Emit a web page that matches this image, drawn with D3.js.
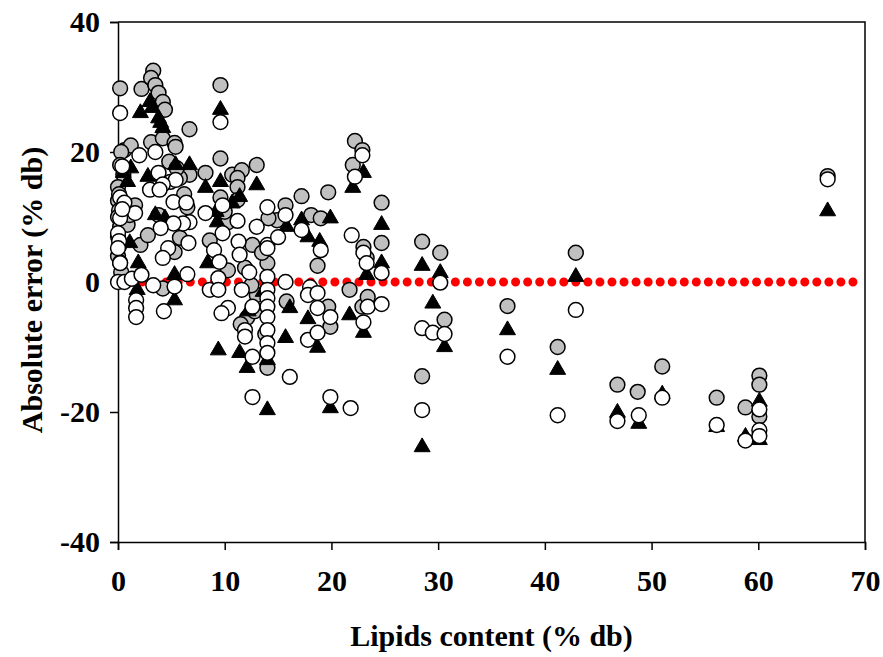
<!DOCTYPE html>
<html>
<head>
<meta charset="utf-8">
<script src="https://cdn.jsdelivr.net/npm/d3@7"></script>
<style>
  body { margin: 0; background: #fff; }
  text { font-family: "Liberation Serif", "Times New Roman", serif; font-weight: bold; }
</style>
</head>
<body>
<svg id="chart"></svg>
<script>
// x = lipids content (% db), y = absolute error (% db)
let grayCircles = [
  [0.2,29.8],[2.2,29.7],[3.3,32.5],[3.1,31.4],[3.5,30.3],[3.8,29.1],[4.2,27.7],[4.4,26.5],[9.6,30.3],[6.7,23.5],
  [0.6,20.3],[1.2,21],[3.1,21.5],[4.2,22.1],[5.3,21.4],[5.4,20.8],[0.3,20],[0.2,18],[0.5,16.5],[0,14.6],
  [0.1,13.5],[0,12.5],[0.1,11],[0,10],[0.2,8.5],[0,7],[0.1,5.5],[0,4],[0.2,3],[0.3,1.5],
  [8.2,16.8],[6.7,16.5],[10.7,16.5],[11.6,17.2],[13,18],[11.2,16],[9.6,19],[9.6,13],[11.2,14.6],[11.2,12.6],
  [15.7,11.8],[14.9,9.5],[14.1,9.8],[17.2,13.2],[19.7,13.8],[18.1,10.3],[19,9.8],[10.3,9.2],[12.6,5.7],[3.8,10.3],
  [2.1,5.7],[0.9,8.8],[1.1,10.3],[1.6,11.8],[2.8,7.2],[5.8,6.8],[5.8,16],[5.3,4.6],[4.2,-1],[4.8,18.5],
  [5.5,17.5],[6.2,13.5],[8.6,6.4],[10,10.8],[6.5,11.5],
  [22.2,21.7],[22.9,20.3],[22,18],[24.7,12.2],[24.7,6],[23,5.4],[23.3,3.7],[18.7,2.5],[21.7,-1.2],[28.5,6.2],[30.2,4.5],
  [15.8,-3],[19.7,-3.8],[19.9,-6.9],[22.9,-3.8],[23.4,-2.3],[30.6,-5.8],[28.5,-14.5],
  [36.5,-3.7],[42.9,4.5],[41.2,-10],[46.8,-15.8],[48.7,-16.9],[51,-13],[56.1,-17.8],[58.8,-19.3],
  [60.1,-14.4],[60.1,-15.8],[60.1,-20.7],[66.5,16.3],
  [14,2.9],[14,-13.2],[12.1,-5.5],[11.9,2.2],[10.3,1.8],[13,-2],[12.5,-0.5],[13.8,-8],[11.5,-6.5],[12.8,-4.5],[13.5,4.5]
];

let blackTriangles = [
  [2.1,26],[3.0,27.7],[3.2,26.8],[3.8,25.2],[4.0,24.5],[4.2,23.7],[9.6,26.5],
  [5.4,18],[6.7,18],[8.2,14.5],[2.8,16.2],[1.2,17.5],[0.9,15.4],[0.5,16.8],[3.5,10.3],[4.4,9.8],
  [9.6,15.4],[13,14.9],[10.7,12.1],[11.4,13.1],[9.3,9.2],[9.2,10.8],
  [17.2,9.5],[19.9,9.8],[17.8,6.9],[18.9,6.2],[15.8,8.5],
  [23,16.8],[22,14.5],[24.7,8.8],[24.7,2.9],[23.3,1.1],[28.5,2.5],[30.2,1.4],
  [1.1,6],[1.9,2.9],[1.8,-1.2],[5.3,1.1],[5.3,-2.8],[8.4,2.9],[9.4,-10.5],
  [16.1,-4],[17.8,-5.7],[18.7,-10.1],[15.7,-8.6],[19.9,-19.4],[21.7,-5.1],[23,-7.8],[29.5,-3.3],[30.6,-10],[28.5,-25.4],
  [36.5,-7.4],[42.9,0.8],[41.2,-13.5],[46.8,-20.1],[48.8,-21.8],[51,-17.3],[56.1,-22.3],[58.8,-23.8],
  [60.1,-18.4],[60.1,-24.3],[66.5,10.9],
  [11.4,-10.9],[12.1,-13.2],[14,-19.7],[14,-12],[12.2,-4.5],[13.6,-1.5]
];

let whiteCircles = [
  [0.2,26],[9.6,24.6],[0.4,17.8],
  [2.0,19.5],[3.5,20],[3.8,16.8],[4.9,15.4],[5.4,15.7],[4.2,15],[3,14.2],[5.2,12.3],[6.4,12.2],[6.7,9.2],
  [8.2,10.6],[6.1,9],[5.2,9],[4,8.3],[3.9,14.2],[1.6,10.6],[9.8,11.8],
  [0.2,13],[0.6,12.2],[0.2,9.8],[0,7.5],[0.4,11.2],[0.1,6.3],[0,5.2],[0.2,2.9],[0,0],[0.6,0],
  [1.3,0.5],[2.2,1.1],[1.7,-2.8],[1.7,-4],[1.7,-5.4],[3.3,-0.5],[5.3,-0.7],[4.3,-4.5],[4.7,5.2],[4.2,3.7],
  [6.6,6],[6.5,1.2],[8.6,-1.2],
  [14,11.5],[15.7,10.3],[13,8.5],[17.2,8],[11.2,9.4],[9.8,7.5],[11.3,6.2],[14,5.7],[15,6.9],
  [15.7,0],[18,-0.8],[19,4.9],
  [22.9,19.5],[22.2,16.2],[24.7,1.4],[21.9,7.2],[23,4.5],[23.3,2.9],[30.2,-0.1],
  [17.8,-2],[18.7,-1.7],[18.7,-4],[19.9,-5.4],[17.8,-8.9],[18.7,-7.8],[16.1,-14.6],[19.9,-17.7],[21.8,-19.4],
  [23,-6.2],[23.4,-3.8],[24.7,-3.4],[28.5,-7.1],[29.5,-7.8],[30.6,-8],[28.5,-19.7],
  [36.5,-11.5],[42.9,-4.3],[41.2,-20.5],[46.8,-21.4],[48.8,-20.5],[51,-17.8],[56.1,-22],[58.8,-24.4],
  [60.1,-19.6],[60.1,-22.8],[60.1,-23.7],[66.5,15.8],
  [14,5.2],[14,0.8],[14,-1.2],[14,-2.5],[14,-3.8],[14,-5.4],[14,-7.4],[14,-9.4],[14,-10.9],
  [11.9,-7.4],[11.9,-8.4],[12.6,-11.5],[12.6,-17.7],[12.6,-3.8],[11.6,-1.2],[9.4,0.6],[9.4,-1.2],
  [10.3,-4],[9.7,-4.8],[11.4,4.2],[9,4.9],[9.5,3.1],[12.3,1.5]
];

let zeroLine = [[0, 0], [70, 0]];
let xTicks = [0, 10, 20, 30, 40, 50, 60, 70],
    yTicks = [-40, -20, 0, 20, 40];

let width = 883,
    height = 657,
    margins = {top: 22, bottom: 115, left: 118, right: 18};

let svg = d3.select("#chart")
  .attr("width", width)
  .attr("height", height);

let x = d3.scaleLinear()
  .domain([0, 70])
  .range([margins.left, width - margins.right]);
let y = d3.scaleLinear()
  .domain([-40, 40])
  .range([height - margins.bottom, margins.top]);

// frame (top and right)
svg.append("path")
  .attr("d", `M${x(0)},${y(40)}H${x(70)}V${y(-40)}`)
  .attr("fill", "none")
  .attr("stroke", "#000")
  .attr("stroke-width", 1.5);

// axes, plain hyphen for negatives like the original
let fmt = d => String(d);
let xAxis = svg.append("g")
  .attr("transform", `translate(0,${y(-40)})`)
  .call(d3.axisBottom(x).tickValues(xTicks).tickFormat(fmt).tickSize(8).tickPadding(20));
let yAxis = svg.append("g")
  .attr("transform", `translate(${x(0)},0)`)
  .call(d3.axisLeft(y).tickValues(yTicks).tickFormat(fmt).tickSize(8).tickPadding(10));

[xAxis, yAxis].forEach(g => {
  g.select(".domain").attr("stroke-width", 1.5);
  g.selectAll(".tick line").attr("stroke-width", 1.5);
  g.selectAll("text")
    .attr("fill", "#000")
    .style("font-size", "30px")
    .style("font-family", "'Liberation Serif', serif")
    .style("font-weight", "bold");
});

// red dotted zero line
let line = d3.line().x(d => x(d[0])).y(d => y(d[1]));
let span = x(70) - x(0);
svg.append("path")
  .datum(zeroLine)
  .attr("d", line)
  .attr("fill", "none")
  .attr("stroke", "#ff0000")
  .attr("stroke-width", 9)
  .attr("stroke-linecap", "round")
  .attr("stroke-dasharray", `0,${span / 62}`);

// markers
svg.append("g").selectAll("circle")
  .data(grayCircles).enter()
  .append("circle")
  .attr("cx", d => x(d[0]))
  .attr("cy", d => y(d[1]))
  .attr("r", 7.4)
  .attr("fill", "#c0c0c0")
  .attr("stroke", "#000")
  .attr("stroke-width", 1.5);

let tri = d3.symbol().type(d3.symbolTriangle).size(110);
svg.append("g").selectAll("path")
  .data(blackTriangles).enter()
  .append("path")
  .attr("d", tri)
  .attr("transform", d => `translate(${x(d[0])},${y(d[1])})`)
  .attr("fill", "#000")
  .attr("stroke", "#000")
  .attr("stroke-width", 1);

svg.append("g").selectAll("circle")
  .data(whiteCircles).enter()
  .append("circle")
  .attr("cx", d => x(d[0]))
  .attr("cy", d => y(d[1]))
  .attr("r", 7.4)
  .attr("fill", "#fff")
  .attr("stroke", "#000")
  .attr("stroke-width", 1.5);

// axis titles
svg.append("text")
  .attr("x", (x(0) + x(70)) / 2)
  .attr("y", 646)
  .attr("text-anchor", "middle")
  .style("font-size", "30px")
  .text("Lipids content (% db)");

svg.append("text")
  .attr("transform", `translate(42,${(y(40) + y(-40)) / 2 + 8}) rotate(-90)`)
  .attr("text-anchor", "middle")
  .style("font-size", "30px")
  .text("Absolute error (% db)");
</script>
</body>
</html>
